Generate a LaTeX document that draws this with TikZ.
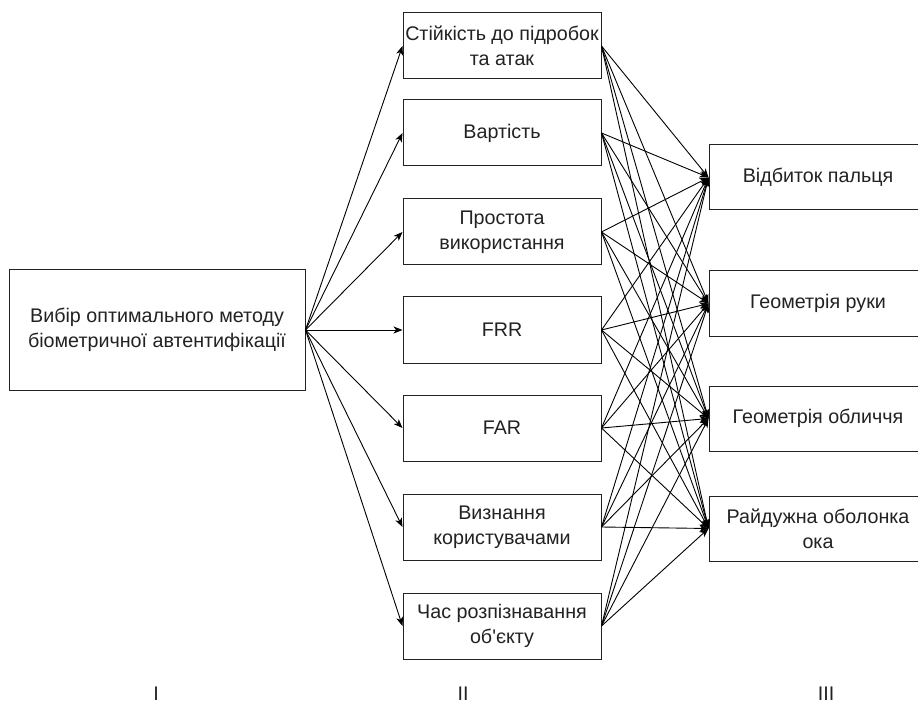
\documentclass[tikz,border=0pt]{standalone}
\usepackage{fontspec}
\setmainfont{Liberation Sans}[Ligatures=TeXOff]
\usetikzlibrary{arrows.meta}
\definecolor{ink}{RGB}{34,34,34}
\begin{document}
\begin{tikzpicture}[x=1pt,y=-1pt,
  box/.style={draw=ink,line width=1pt,fill=white,align=center,text=ink,
    inner sep=0pt,font=\fontsize{19.7}{25}\selectfont},
  mainbox/.style={box,minimum width=296pt,minimum height=120pt},
  critbox/.style={box,minimum width=198pt,minimum height=66pt},
  altbox/.style={box,minimum width=218pt,minimum height=65pt},
  lvl/.style={text=ink,inner sep=0pt,font=\fontsize{19.7}{25}\selectfont},
  link/.style={draw=black,line width=0.9pt,-{Stealth[length=9pt,width=7pt,inset=2.5pt]}}]
\clip (0,0) rectangle (918,703);
\fill[white] (0,0) rectangle (918,703);

% goal
\node[mainbox] (goal) at (157,330) {Вибір оптимального методу\\біометричної автентифікації};

% criteria
\node[critbox] (c1) at (502,46)  {Стійкість до підробок\\та атак};
\node[critbox] (c2) at (502,133) {Вартість};
\node[critbox] (c3) at (502,232) {Простота\\використання};
\node[critbox] (c4) at (502,330) {FRR};
\node[critbox] (c5) at (502,428) {FAR};
\node[critbox] (c6) at (502,527) {Визнання\\користувачами};
\node[critbox] (c7) at (502,626) {Час розпізнавання\\об'єкту};

% alternatives
\node[altbox] (a1) at (818,177.5) {Відбиток пальця};
\node[altbox] (a2) at (818,303.5) {Геометрія руки};
\node[altbox] (a3) at (818,418.5) {Геометрія обличчя};
\node[altbox] (a4) at (818,528.5) {Райдужна оболонка\\ока};

% level labels
\node[lvl,anchor=base] (l1) at (156,700) {I};
\node[lvl,anchor=base] (l2) at (463,700) {II};
\node[lvl,anchor=base] (l3) at (826,700) {III};

% connectors
\foreach \c in {1,...,7}{
  \draw[link] (goal.east) -- (c\c.west);
  \foreach \a in {1,...,4}{
    \draw[link] (c\c.east) -- (a\a.west);
  }
}
\end{tikzpicture}
\end{document}
